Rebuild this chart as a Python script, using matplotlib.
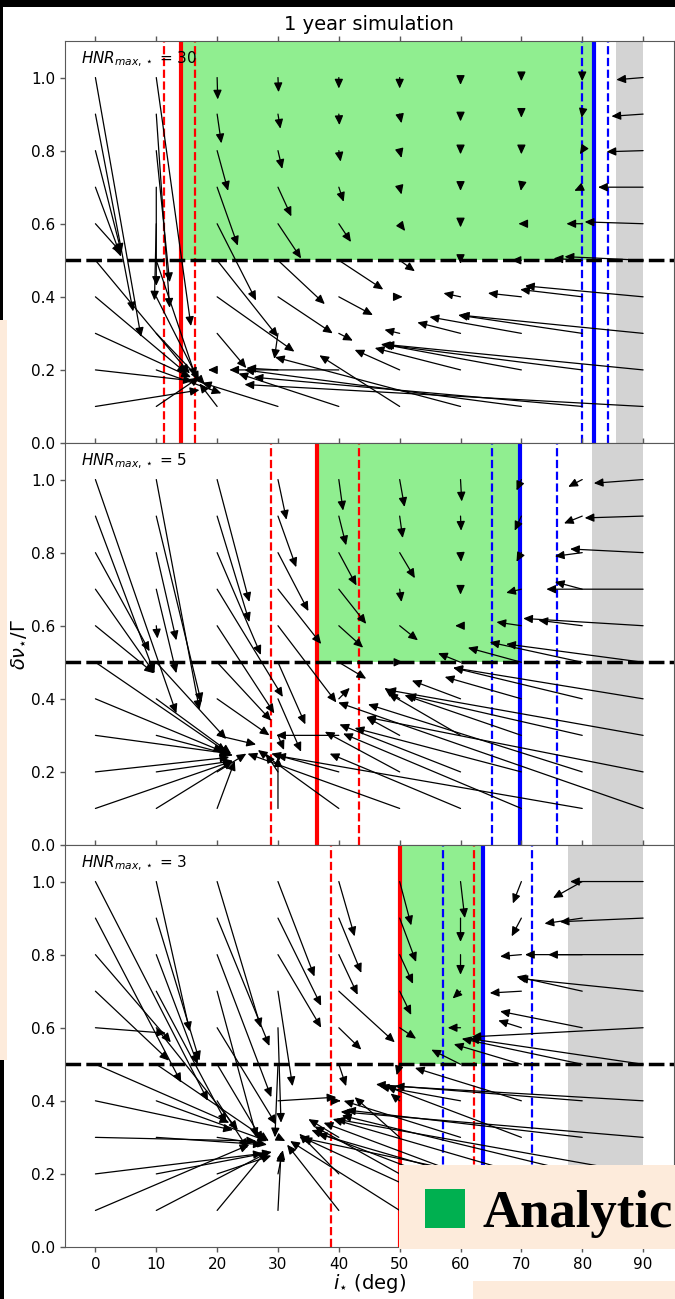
import matplotlib
matplotlib.use("Agg")
import matplotlib.pyplot as plt
from matplotlib.patches import Rectangle

# simulated starting grid: inclination (columns) and linewidth ratio (rows)
i_grid = [0, 10, 20, 30, 40, 50, 60, 70, 80, 90]
dnu_grid = [1.0, 0.9, 0.8, 0.7, 0.6, 0.5, 0.4, 0.3, 0.2, 0.1]

hnr_values = [30, 5, 3]

# recovered (fitted) values after one year, one row per starting dnu
end_i_hnr30 = [
    [7.5, 15.7, 20.1, 30.1, 40.0, 50.0, 60.0, 70.0, 80.0, 85.6],
    [6.2, 12.2, 20.7, 30.4, 40.1, 50.3, 60.0, 70.0, 79.9, 84.8],
    [4.3, 12.2, 21.8, 30.7, 40.3, 50.3, 60.0, 70.0, 79.6, 84.0],
    [4.2, 10.0, 23.4, 32.2, 40.8, 50.3, 60.0, 69.9, 78.7, 82.6],
    [4.3, 9.7, 26.4, 33.8, 42.0, 50.9, 60.0, 69.5, 77.4, 80.4],
    [15.5, 16.5, 30.0, 37.7, 47.3, 52.5, 60.0, 68.4, 75.3, 77.1],
    [15.0, 17.0, 32.7, 39.0, 45.6, 50.5, 57.2, 64.5, 69.8, 70.6],
    [15.7, 18.0, 24.8, 29.4, 42.3, 47.5, 52.9, 54.9, 59.6, 59.9],
    [16.0, 20.7, 18.5, 24.8, 22.0, 42.6, 45.9, 47.3, 46.9, 47.5],
    [17.1, 17.1, 17.1, 17.5, 23.5, 36.8, 29.5, 24.5, 26.0, 24.5],
]
end_dnu_hnr30 = [
    [0.29, 0.32, 0.94, 0.96, 0.97, 0.97, 0.98, 0.99, 0.99, 0.994],
    [0.36, 0.37, 0.82, 0.86, 0.87, 0.875, 0.88, 0.89, 0.89, 0.894],
    [0.52, 0.44, 0.69, 0.75, 0.77, 0.78, 0.79, 0.79, 0.79, 0.797],
    [0.51, 0.43, 0.54, 0.62, 0.66, 0.68, 0.69, 0.69, 0.69, 0.70],
    [0.52, 0.39, 0.39, 0.505, 0.55, 0.58, 0.59, 0.60, 0.60, 0.605],
    [0.19, 0.18, 0.29, 0.38, 0.42, 0.47, 0.49, 0.50, 0.505, 0.51],
    [0.19, 0.17, 0.25, 0.30, 0.35, 0.40, 0.41, 0.41, 0.42, 0.43],
    [0.18, 0.16, 0.205, 0.23, 0.28, 0.31, 0.33, 0.345, 0.35, 0.35],
    [0.17, 0.136, 0.20, 0.205, 0.20, 0.255, 0.26, 0.27, 0.27, 0.27],
    [0.145, 0.18, 0.163, 0.165, 0.19, 0.24, 0.235, 0.20, 0.18, 0.16],
]

end_i_hnr5 = [
    [13.3, 17.1, 25.3, 31.4, 40.7, 50.8, 60.2, 69.2, 77.7, 81.9],
    [9.7, 17.4, 25.3, 33.0, 41.2, 50.5, 60.1, 68.9, 77.0, 80.4],
    [8.9, 13.3, 27.2, 35.0, 42.9, 52.5, 60.1, 69.2, 75.5, 78.0],
    [9.7, 13.3, 30.8, 37.1, 44.5, 50.3, 60.0, 67.5, 75.5, 74.1],
    [9.6, 10.2, 29.4, 39.6, 44.0, 53.0, 59.1, 65.9, 72.8, 70.3],
    [21.5, 21.5, 28.9, 34.5, 44.5, 50.6, 56.3, 61.2, 64.8, 67.5],
    [21.0, 22.3, 28.6, 33.8, 41.8, 47.5, 52.0, 57.4, 58.8, 58.8],
    [22.0, 22.6, 26.4, 31.0, 29.7, 44.5, 48.1, 50.8, 51.1, 47.8],
    [22.0, 22.6, 24.8, 28.0, 28.9, 37.7, 40.1, 42.6, 44.8, 44.5],
    [22.6, 22.6, 22.9, 30.0, 26.7, 25.0, 38.5, 40.7, 29.7, 39.9],
]
end_dnu_hnr5 = [
    [0.36, 0.37, 0.665, 0.89, 0.915, 0.925, 0.94, 0.97, 0.98, 0.99],
    [0.47, 0.39, 0.61, 0.76, 0.82, 0.84, 0.86, 0.86, 0.88, 0.895],
    [0.53, 0.56, 0.52, 0.64, 0.71, 0.73, 0.775, 0.775, 0.79, 0.81],
    [0.47, 0.47, 0.405, 0.55, 0.605, 0.665, 0.685, 0.69, 0.72, 0.70],
    [0.47, 0.565, 0.36, 0.39, 0.54, 0.56, 0.60, 0.61, 0.615, 0.62],
    [0.255, 0.29, 0.34, 0.33, 0.455, 0.50, 0.525, 0.54, 0.555, 0.55],
    [0.255, 0.25, 0.30, 0.255, 0.43, 0.43, 0.45, 0.46, 0.485, 0.485],
    [0.25, 0.245, 0.275, 0.26, 0.30, 0.35, 0.415, 0.41, 0.41, 0.425],
    [0.24, 0.23, 0.25, 0.25, 0.25, 0.31, 0.33, 0.32, 0.385, 0.35],
    [0.23, 0.23, 0.23, 0.24, 0.26, 0.25, 0.25, 0.305, 0.245, 0.39],
]

end_i_hnr3 = [
    [18.5, 15.5, 27.2, 36.0, 42.6, 51.9, 60.7, 68.6, 75.2, 78.0],
    [14.1, 17.1, 28.6, 37.1, 43.7, 52.7, 60.0, 68.4, 73.8, 76.3],
    [12.4, 16.8, 28.9, 37.1, 43.1, 52.2, 60.0, 66.5, 70.6, 74.4],
    [12.1, 21.5, 26.5, 32.4, 49.2, 51.9, 58.7, 64.8, 69.2, 69.5],
    [11.6, 23.4, 29.7, 30.5, 43.7, 52.7, 57.9, 66.2, 66.5, 61.8],
    [22.0, 28.5, 27.5, 29.5, 41.2, 49.5, 55.2, 58.9, 60.2, 61.5],
    [22.6, 28.2, 25.0, 39.6, 40.3, 48.5, 46.7, 52.5, 46.1, 49.2],
    [26.4, 27.5, 28.2, 31.2, 35.0, 42.6, 40.8, 47.8, 41.2, 40.3],
    [27.5, 29.0, 28.9, 30.8, 33.5, 36.0, 37.5, 39.0, 40.5, 39.5],
    [25.3, 28.5, 28.2, 30.5, 31.5, 32.0, 34.0, 35.5, 36.5, 33.5],
]
end_dnu_hnr3 = [
    [0.40, 0.59, 0.60, 0.74, 0.85, 0.88, 0.90, 0.94, 0.955, 1.0],
    [0.45, 0.51, 0.55, 0.66, 0.75, 0.78, 0.835, 0.85, 0.885, 0.89],
    [0.56, 0.50, 0.41, 0.60, 0.69, 0.72, 0.745, 0.795, 0.80, 0.80],
    [0.51, 0.34, 0.30, 0.44, 0.56, 0.635, 0.68, 0.695, 0.74, 0.735],
    [0.585, 0.32, 0.335, 0.34, 0.54, 0.57, 0.60, 0.62, 0.645, 0.575],
    [0.34, 0.29, 0.29, 0.30, 0.44, 0.47, 0.54, 0.555, 0.57, 0.57],
    [0.32, 0.29, 0.27, 0.41, 0.40, 0.42, 0.44, 0.49, 0.445, 0.44],
    [0.29, 0.28, 0.28, 0.29, 0.35, 0.41, 0.40, 0.44, 0.375, 0.37],
    [0.256, 0.26, 0.25, 0.265, 0.31, 0.33, 0.34, 0.35, 0.36, 0.35],
    [0.28, 0.26, 0.265, 0.26, 0.28, 0.29, 0.30, 0.32, 0.31, 0.30],
]

end_i = [end_i_hnr30, end_i_hnr5, end_i_hnr3]
end_dnu = [end_dnu_hnr30, end_dnu_hnr5, end_dnu_hnr3]

# analytic limits on inclination for each HNR
red_solid = [14.0, 36.4, 50.0]
red_dashed = [[11.3, 16.3], [28.9, 43.3], [38.7, 62.2]]
blue_solid = [81.9, 69.8, 63.7]
blue_dashed = [[80.0, 84.2], [65.1, 75.9], [57.1, 71.7]]
grey_start = [85.5, 81.6, 77.6]
dnu_limit = 0.5

W, H = 675, 1299
fig = plt.figure(figsize=(W / 100, H / 100), dpi=100)


def fig_rect(x0, y0, x1, y1):
    # pixel box (top-left origin) -> figure fraction rect
    return (x0 / W, 1 - y1 / H, (x1 - x0) / W, (y1 - y0) / H)


ax_left, ax_right = 65, 673.5
panel_tops = [41, 443, 845]
panel_h = 402

axes = []
for k in range(3):
    l, b, w, h = fig_rect(ax_left, panel_tops[k], ax_right, panel_tops[k] + panel_h)
    ax = fig.add_axes([l, b, w, h])
    axes.append(ax)

    ax.axvspan(grey_start[k], 90, color="lightgrey", lw=0, zorder=0.5)
    ax.fill_between([red_solid[k], blue_solid[k]], dnu_limit, 1.1,
                    color="lightgreen", lw=0, zorder=0.6)

    ax.axvline(red_solid[k], color="red", lw=3, zorder=2)
    ax.axvline(blue_solid[k], color="blue", lw=3, zorder=2)
    for xv in red_dashed[k]:
        ax.axvline(xv, color="red", lw=1.6, ls="--", zorder=2)
    for xv in blue_dashed[k]:
        ax.axvline(xv, color="blue", lw=1.6, ls="--", zorder=2)
    ax.axhline(dnu_limit, color="k", lw=2.5, ls=(0, (4.5, 1.5)), zorder=2)

    for r, y0 in enumerate(dnu_grid):
        for c, x0 in enumerate(i_grid):
            ax.annotate("", xy=(end_i[k][r][c], end_dnu[k][r][c]), xytext=(x0, y0),
                        arrowprops=dict(arrowstyle="-|>,head_length=0.55,head_width=0.25",
                                        mutation_scale=10, lw=0.9, color="k",
                                        shrinkA=0, shrinkB=0),
                        zorder=3)

    ax.text(0.026, 0.978, rf"$HNR_{{max,\star}}$ = {hnr_values[k]}",
            transform=ax.transAxes, va="top", ha="left", fontsize=11, zorder=5)

    ax.set_xlim(-5, 95)
    ax.set_ylim(0, 1.1)
    ax.set_xticks(i_grid)
    ax.set_yticks([0.0, 0.2, 0.4, 0.6, 0.8, 1.0])
    ax.tick_params(direction="out", length=3.5, width=1, color="0.35",
                   top=True, right=True, labelsize=11)
    for sp in ax.spines.values():
        sp.set_color("0.35")
    if k < 2:
        ax.tick_params(labelbottom=False)

axes[0].set_title("1 year simulation", fontsize=14, pad=8)
axes[1].set_ylabel(r"$\delta\nu_{\star}/\Gamma$", fontsize=14, labelpad=2)
axes[2].set_xlabel(r"$i_{\star}$ (deg)", fontsize=14, labelpad=0)

# frame pieces and legend card around the figure
peach = "#FDEBDB"
overlays = [
    ((0, 0, W, 7), "black"),
    ((0, 0, 3, 320), "black"),
    ((0, 320, 7, 1060), peach),
    ((0, 1060, 4, H), "black"),
    ((399, 1165, W, 1249), peach),
    ((425, 1189, 465, 1228), "#00B050"),
    ((473, 1281, W, H), peach),
]
for (x0, y0, x1, y1), col in overlays:
    l, b, w, h = fig_rect(x0, y0, x1, y1)
    fig.add_artist(Rectangle((l, b), w, h, transform=fig.transFigure,
                             facecolor=col, edgecolor="none", zorder=10))

fig.text(483 / W, 1 - 1227 / H, "Analytic", fontfamily="Liberation Serif",
         fontweight="bold", fontsize=38, va="baseline", ha="left", zorder=11)

fig.savefig("out.png", dpi=100)
